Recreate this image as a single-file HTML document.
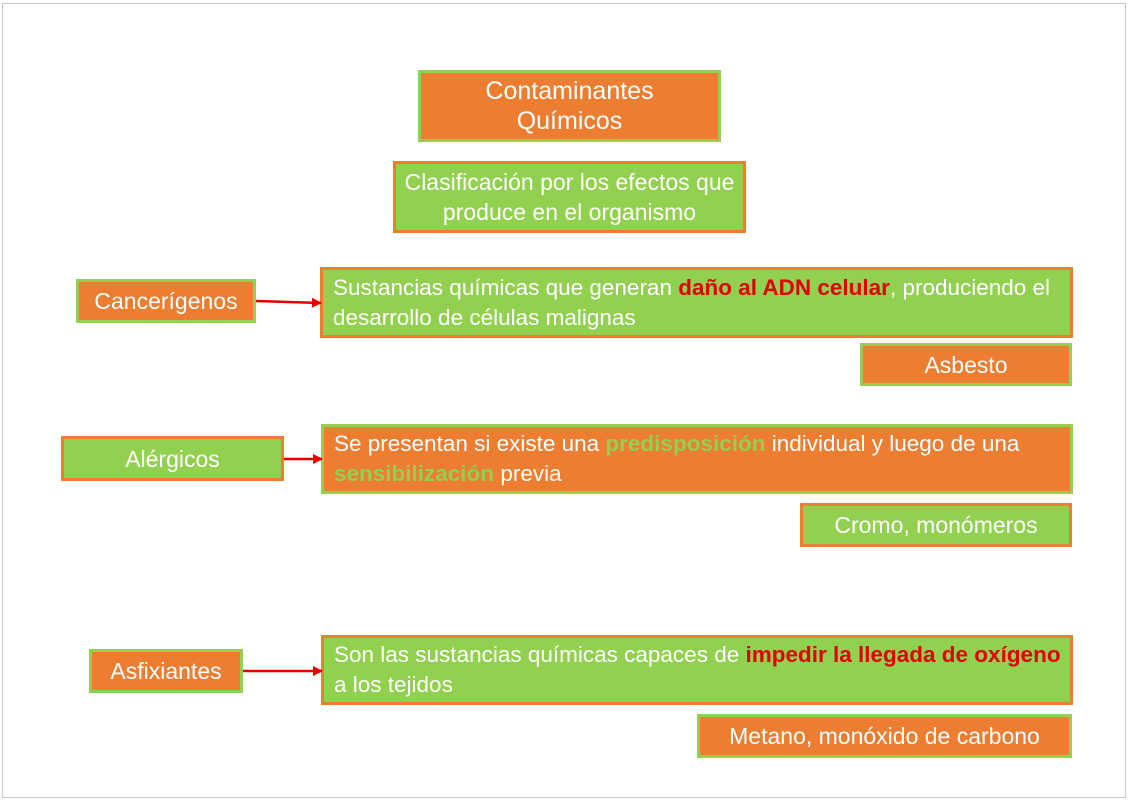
<!DOCTYPE html>
<html><head><meta charset="utf-8"><style>
body{margin:0;width:1128px;height:800px;background:#fff;position:relative;overflow:hidden;font-family:"Liberation Sans",sans-serif;}
.f{position:absolute;left:2px;top:3px;width:1122px;height:793px;border:1px solid #c8c8c8;}
.b{position:absolute;box-sizing:border-box;border:3px solid;color:#fff;font-size:23px;display:flex;align-items:center;white-space:nowrap;}
.o{background:#ED7D31;border-color:#92D050;}
.g{background:#92D050;border-color:#ED7D31;}
.c{justify-content:center;text-align:center;line-height:30px;}
.l{padding-left:10px;line-height:30px;}
.r{color:#E00000;font-weight:bold;}
.gr{color:#92D050;font-weight:bold;}
.o .gr{color:#92D050;}
</style></head><body>
<div class="f"></div>
<div class="b o c" style="left:418px;top:70px;width:303px;height:72px;font-size:25px;">Contaminantes<br>Químicos</div>
<div class="b g c" style="left:393px;top:161px;width:353px;height:72px;">Clasificación por los efectos que<br>produce en el organismo</div>
<div class="b o c" style="left:76px;top:279px;width:180px;height:44px;">Cancerígenos</div>
<div class="b g l" style="left:320px;top:267px;width:753px;height:71px;font-size:22.5px;"><div>Sustancias químicas que generan <span class="r">daño al ADN celular</span>, produciendo el<br>desarrollo de células malignas</div></div>
<div class="b o c" style="left:860px;top:343px;width:212px;height:43px;">Asbesto</div>
<div class="b g c" style="left:61px;top:436px;width:223px;height:45px;">Alérgicos</div>
<div class="b o l" style="left:321px;top:424px;width:752px;height:70px;font-size:22.5px;"><div>Se presentan si existe una <span class="gr">predisposición</span> individual y luego de una<br><span class="gr">sensibilización</span> previa</div></div>
<div class="b g c" style="left:800px;top:503px;width:272px;height:44px;">Cromo, monómeros</div>
<div class="b o c" style="left:89px;top:649px;width:154px;height:44px;">Asfixiantes</div>
<div class="b g l" style="left:321px;top:635px;width:752px;height:70px;font-size:22.5px;"><div>Son las sustancias químicas capaces de <span class="r">impedir la llegada de oxígeno</span><br>a los tejidos</div></div>
<div class="b o c" style="left:697px;top:714px;width:375px;height:44px;">Metano, monóxido de carbono</div>
<svg style="position:absolute;left:0;top:0" width="1128" height="800">
<defs><marker id="a" markerWidth="10" markerHeight="10" refX="9" refY="5" orient="auto" markerUnits="userSpaceOnUse"><path d="M0,0 L10,5 L0,10z" fill="#E60000"/></marker></defs>
<line x1="256" y1="301" x2="321" y2="303" stroke="#E60000" stroke-width="2.5" marker-end="url(#a)"/>
<line x1="284" y1="459" x2="322" y2="459" stroke="#E60000" stroke-width="2.5" marker-end="url(#a)"/>
<line x1="243" y1="671" x2="322" y2="671" stroke="#E60000" stroke-width="2.5" marker-end="url(#a)"/>
</svg>
</body></html>
